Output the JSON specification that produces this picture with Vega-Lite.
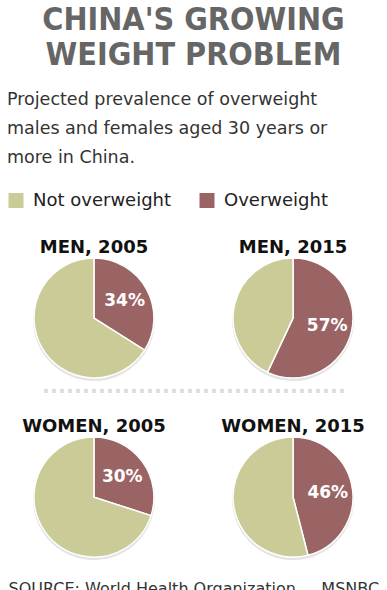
{
  "$schema": "https://vega.github.io/schema/vega-lite/v6.json",
  "width": 387,
  "height": 356,
  "padding": {"left": 0, "right": 0, "top": 4, "bottom": 0},
  "background": "white",
  "title": {
    "text": ["CHINA'S GROWING", "WEIGHT PROBLEM"],
    "anchor": "middle",
    "font": "Liberation Sans Narrow, DejaVu Sans Condensed, sans-serif",
    "fontSize": 32,
    "fontWeight": "bold",
    "color": "#666666",
    "lineHeight": 35,
    "offset": 12
  },
  "data": {
    "values": [
      {"sex": "MEN", "year": "2005", "panel": "MEN, 2005", "category": "Overweight", "value": 34, "label": "34%"},
      {"sex": "MEN", "year": "2005", "panel": "MEN, 2005", "category": "Not overweight", "value": 66, "label": "66%"},
      {"sex": "MEN", "year": "2015", "panel": "MEN, 2015", "category": "Overweight", "value": 57, "label": "57%"},
      {"sex": "MEN", "year": "2015", "panel": "MEN, 2015", "category": "Not overweight", "value": 43, "label": "43%"},
      {"sex": "WOMEN", "year": "2005", "panel": "WOMEN, 2005", "category": "Overweight", "value": 30, "label": "30%"},
      {"sex": "WOMEN", "year": "2005", "panel": "WOMEN, 2005", "category": "Not overweight", "value": 70, "label": "70%"},
      {"sex": "WOMEN", "year": "2015", "panel": "WOMEN, 2015", "category": "Overweight", "value": 46, "label": "46%"},
      {"sex": "WOMEN", "year": "2015", "panel": "WOMEN, 2015", "category": "Not overweight", "value": 54, "label": "54%"}
    ]
  },
  "transform": [
    {"stack": "value", "groupby": ["sex", "year"], "sort": [{"field": "category", "order": "descending"}], "as": ["v0", "v1"]}
  ],
  "encoding": {
    "x": {
      "field": "year",
      "type": "ordinal",
      "scale": {"type": "point", "padding": 0.472},
      "axis": {
        "labels": false,
        "ticks": false,
        "domain": false,
        "grid": false,
        "title": "SOURCE: World Health Organization\u00a0\u00a0\u00a0\u00a0\u00a0MSNBC",
        "titleAnchor": "start",
        "titleAlign": "left",
        "titleFont": "DejaVu Sans",
        "titleFontSize": 16,
        "titleFontWeight": "normal",
        "titleColor": "#333333",
        "titlePadding": 4,
        "titleX": 8
      }
    },
    "y": {
      "field": "sex",
      "type": "nominal",
      "sort": ["MEN", "WOMEN"],
      "scale": {"type": "point", "padding": 0.494, "align": 0.554},
      "axis": null
    }
  },
  "layer": [
    {
      "mark": {"type": "arc", "outerRadius": 61, "color": "#e4e4e4", "yOffset": 2},
      "encoding": {
        "theta": {"field": "v0", "type": "quantitative", "scale": {"domain": [0, 100]}},
        "theta2": {"field": "v1"}
      }
    },
    {
      "mark": {"type": "arc", "outerRadius": 60, "stroke": "white", "strokeWidth": 1.5},
      "encoding": {
        "theta": {"field": "v0", "type": "quantitative", "scale": {"domain": [0, 100]}},
        "theta2": {"field": "v1"},
        "color": {
          "field": "category",
          "type": "nominal",
          "scale": {"domain": ["Not overweight", "Overweight"], "range": ["#CBCB98", "#9A6464"]},
          "legend": {
            "orient": "top",
            "direction": "horizontal",
            "title": ["Projected prevalence of overweight", "males and females aged 30 years or", "more in China."],
            "titleFont": "DejaVu Sans",
            "titleFontSize": 17.5,
            "titleFontWeight": "normal",
            "titleColor": "#333333",
            "titleLineHeight": 29,
            "titlePadding": 25,
            "titleLimit": 400,
            "titleAlign": "left",
            "symbolType": "square",
            "symbolSize": 225,
            "symbolStrokeWidth": 0,
            "symbolOpacity": 1,
            "labelFont": "DejaVu Sans",
            "labelFontSize": 18,
            "labelColor": "#222222",
            "labelOffset": 8,
            "labelLimit": 300,
            "columnPadding": 26,
            "padding": 7,
            "offset": 3
          }
        }
      }
    },
    {
      "transform": [{"filter": "datum.category == 'Overweight'"}],
      "mark": {"type": "text", "radius": 35, "color": "white", "font": "DejaVu Sans", "fontSize": 17, "fontWeight": "bold", "align": "center", "baseline": "middle"},
      "encoding": {
        "theta": {"field": "value", "type": "quantitative", "scale": {"domain": [0, 200]}},
        "text": {"field": "label"}
      }
    },
    {
      "transform": [{"filter": "datum.category == 'Overweight'"}],
      "mark": {"type": "text", "dy": -65, "color": "#111111", "font": "DejaVu Sans", "fontSize": 18, "fontWeight": "bold", "align": "center", "baseline": "alphabetic"},
      "encoding": {
        "text": {"field": "panel"}
      }
    },
    {
      "transform": [{"filter": "datum.category == 'Overweight' && datum.panel == 'MEN, 2005'"}],
      "mark": {"type": "rule", "color": "#dddddd", "strokeWidth": 4, "strokeDash": [4, 4], "xOffset": -50, "x2Offset": 52, "yOffset": 73},
      "encoding": {
        "x": {"datum": "2005"},
        "x2": {"datum": "2015"},
        "y": {"datum": "MEN"}
      }
    }
  ],
  "resolve": {"scale": {"theta": "independent"}},
  "config": {
    "view": {"stroke": null}
  }
}
